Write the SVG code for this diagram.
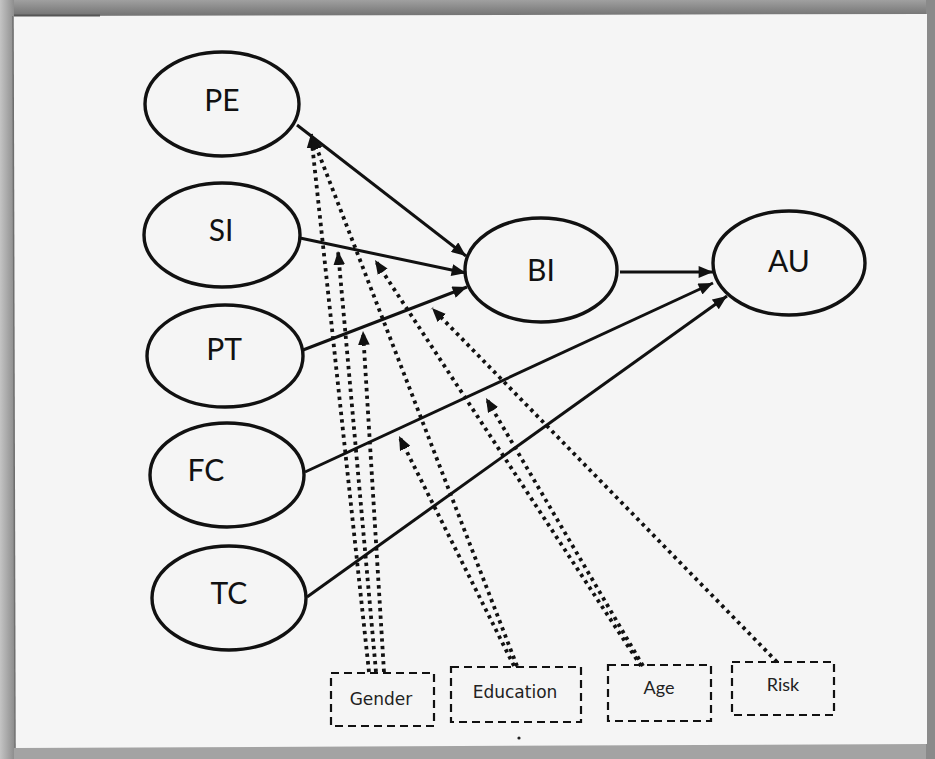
<svg xmlns="http://www.w3.org/2000/svg" width="935" height="759" viewBox="0 0 935 759">
  <defs>
    <style>
      .node ellipse { fill: none; stroke: #111; stroke-width: 3.4; }
      .node text { font-family: Lato, "Open Sans", sans-serif; font-size: 30px; fill: #111; text-anchor: middle; }
      .mod rect { fill: none; stroke: #111; stroke-width: 2.2; stroke-dasharray: 8 5; }
      .mod text { font-family: "DejaVu Sans", Verdana, sans-serif; font-size: 17px; fill: #222; text-anchor: middle; }
      .mod text.cal { font-family: Lato, "Open Sans", sans-serif; font-size: 18px; }
      .path { fill: none; stroke: #111; stroke-width: 3; marker-end: url(#head); }
      .mline { fill: none; stroke: #111; stroke-width: 3.8; stroke-dasharray: 3.4 4.2; marker-end: url(#dothead); }
    </style>
    <marker id="head" viewBox="0 0 12 10" refX="12" refY="5" markerWidth="15" markerHeight="12" markerUnits="userSpaceOnUse" orient="auto">
      <path d="M0,0 L12,5 L0,10 z" fill="#111"/>
    </marker>
    <marker id="dothead" viewBox="0 0 12 10" refX="12" refY="5" markerWidth="14" markerHeight="12" markerUnits="userSpaceOnUse" orient="auto">
      <path d="M0,0 L12,5 L0,10 z" fill="#111"/>
    </marker>
    <linearGradient id="leftShade" x1="0" y1="0" x2="1" y2="0">
      <stop offset="0" stop-color="#c4c4c4"/>
      <stop offset="1" stop-color="#8e8e8e"/>
    </linearGradient>
    <linearGradient id="topShade" x1="0" y1="0" x2="0" y2="1">
      <stop offset="0" stop-color="#a0a0a0"/>
      <stop offset="1" stop-color="#6f6f6f"/>
    </linearGradient>
  </defs>

  <!-- backdrop around the sheet -->
  <rect x="0" y="0" width="935" height="759" fill="#a3a3a3"/>
  <rect x="0" y="0" width="935" height="17" fill="url(#topShade)"/>
  <rect x="0" y="0" width="14" height="759" fill="url(#leftShade)"/>
  <rect x="926" y="0" width="9" height="759" fill="#8a8a8a"/>

  <!-- paper sheet -->
  <polygon points="13,16 927,14 927,744 15,748" fill="#f5f5f5"/>
  <line x1="13" y1="16" x2="15" y2="748" stroke="#6e6e6e" stroke-width="1.5"/>
  <line x1="14" y1="15.5" x2="100" y2="15.5" stroke="#555" stroke-width="2"/>

  <!-- constructs -->
  <g id="PE" class="node">
    <ellipse cx="222" cy="104" rx="77" ry="52"/>
    <text x="222" y="111">PE</text>
  </g>
  <g id="SI" class="node">
    <ellipse cx="222" cy="235" rx="78" ry="52"/>
    <text x="221" y="241">SI</text>
  </g>
  <g id="PT" class="node">
    <ellipse cx="225" cy="356" rx="78" ry="51"/>
    <text x="224" y="360">PT</text>
  </g>
  <g id="FC" class="node">
    <ellipse cx="227" cy="475" rx="77" ry="52"/>
    <text x="206" y="481">FC</text>
  </g>
  <g id="TC" class="node">
    <ellipse cx="229" cy="598" rx="77" ry="52"/>
    <text x="229" y="604">TC</text>
  </g>
  <g id="BI" class="node">
    <ellipse cx="541" cy="270" rx="76" ry="52"/>
    <text x="541" y="281">BI</text>
  </g>
  <g id="AU" class="node">
    <ellipse cx="789" cy="263" rx="76" ry="52"/>
    <text x="789" y="272">AU</text>
  </g>

  <!-- moderators -->
  <g id="Gender" class="mod">
    <rect x="331" y="673" width="103" height="53"/>
    <text x="381" y="705">Gender</text>
  </g>
  <g id="Education" class="mod">
    <rect x="451" y="667" width="130" height="55"/>
    <text x="515" y="698">Education</text>
  </g>
  <g id="Age" class="mod">
    <rect x="608" y="665" width="103" height="56"/>
    <text class="cal" x="659" y="694">Age</text>
  </g>
  <g id="Risk" class="mod">
    <rect x="732" y="662" width="102" height="53"/>
    <text class="cal" x="783" y="691">Risk</text>
  </g>

  <!-- connectors -->
  <g id="connectors">
    <!-- direct paths -->
    <line class="path" x1="297" y1="125" x2="466" y2="256"/>
    <line class="path" x1="300" y1="238" x2="466" y2="273"/>
    <line class="path" x1="303" y1="350" x2="467" y2="287"/>
    <line class="path" x1="620" y1="272" x2="713" y2="272"/>
    <line class="path" x1="305" y1="472" x2="713" y2="283"/>
    <line class="path" x1="307" y1="597" x2="727" y2="296"/>

    <!-- moderating effects -->
    <line class="mline" x1="369" y1="672" x2="311" y2="134"/>
    <line class="mline" x1="376" y1="672" x2="338" y2="251"/>
    <line class="mline" x1="384" y1="672" x2="363" y2="331"/>
    <line class="mline" x1="517" y1="666" x2="312" y2="136"/>
    <line class="mline" x1="514" y1="666" x2="399" y2="436"/>
    <line class="mline" x1="643" y1="666" x2="486" y2="398"/>
    <line class="mline" x1="641" y1="666" x2="375" y2="260"/>
    <line class="mline" x1="777" y1="662" x2="432" y2="308"/>
  </g>

  <circle cx="519" cy="738" r="1.6" fill="#222"/>
</svg>
